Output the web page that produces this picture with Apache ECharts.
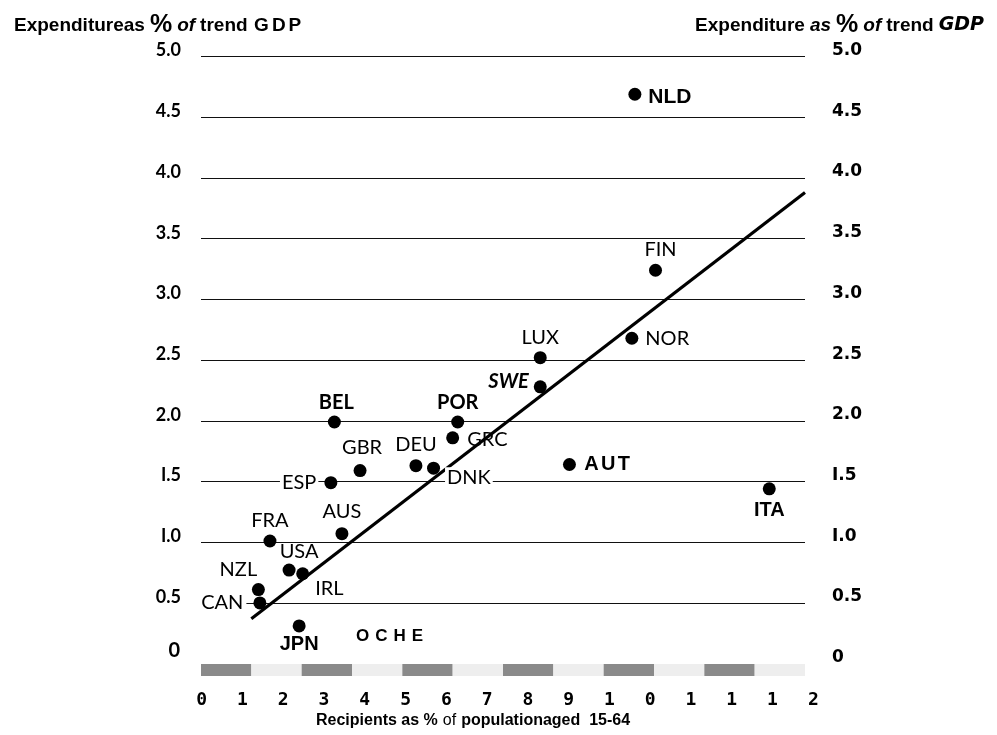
<!DOCTYPE html>
<html>
<head>
<meta charset="utf-8">
<title>Disability benefits: recipients and expenditure</title>
<script src="https://cdn.jsdelivr.net/npm/echarts@6/dist/echarts.min.js"></script>
<style>
  html, body { margin: 0; padding: 0; background: #fff; }
  #chart { width: 997px; height: 735px; }
</style>
</head>
<body>
<div id="chart"></div>
<script>
// Country codes, recipients (% of population aged 15-64) and expenditure (% of trend GDP)
const countries   = ['NLD', 'FIN', 'NOR', 'LUX', 'SWE', 'POR', 'GRC', 'BEL', 'DEU', 'DNK', 'GBR',
                     'ESP', 'AUT', 'ITA', 'AUS', 'FRA', 'USA', 'IRL', 'NZL', 'CAN', 'JPN'];
const recipients  = [8.62, 9.03, 8.56, 6.74, 6.74, 5.10, 5.00, 2.65, 4.27, 4.62, 3.16,
                     2.58, 7.32, 11.29, 2.80, 1.37, 1.75, 2.02, 1.14, 1.17, 1.95];
const expenditure = [4.69, 3.24, 2.68, 2.52, 2.28, 1.99, 1.86, 1.99, 1.63, 1.61, 1.59,
                     1.49, 1.64, 1.44, 1.07, 1.01, 0.77, 0.74, 0.61, 0.50, 0.31];

// Fitted trend line end points
const trendX = [1.0, 12.0];
const trendY = [0.37, 3.88];

// Axis tick labels
const yTickLabels = ['0', '0.5', 'I.0', 'I.5', '2.0', '2.5', '3.0', '3.5', '4.0', '4.5', '5.0'];
const xTickLabels = ['0', '1', '2', '3', '4', '5', '6', '7', '8', '9', '1', '0', '1', '1', '1', '2'];

// Label typography
const plain    = { fontFamily: 'Lato', fontSize: 20, fontWeight: 'normal', color: '#000' };
const gillBold = { fontFamily: 'Lato', fontSize: 20, fontWeight: 'bold', color: '#000' };
const sansBold = { fontFamily: 'Liberation Sans', fontSize: 20, fontWeight: 'bold', color: '#000' };

// Where each country's label sits relative to its dot
const labelPlacement = {
  NLD: Object.assign({ position: 'right', distance: 7, offset: [0, 3] }, sansBold, { fontSize: 21 }),
  FIN: Object.assign({ position: 'top', distance: 4, offset: [5, 0] }, plain),
  NOR: Object.assign({ position: 'right', distance: 7 }, plain),
  LUX: Object.assign({ position: 'top', distance: 4 }, plain),
  SWE: Object.assign({ position: 'left', distance: 5, offset: [0, -5], fontStyle: 'italic' }, gillBold),
  POR: Object.assign({ position: 'top', distance: 3 }, gillBold),
  GRC: Object.assign({ position: 'right', distance: 8, offset: [0, 2] }, plain),
  BEL: Object.assign({ position: 'top', distance: 3, offset: [2, 0] }, gillBold),
  DEU: Object.assign({ position: 'top', distance: 5 }, plain),
  DNK: Object.assign({ position: 'right', distance: 5, offset: [0, 9], backgroundColor: '#fff', padding: [0, 2] }, plain),
  GBR: Object.assign({ position: 'top', distance: 7, offset: [2, 0] }, plain),
  ESP: Object.assign({ position: 'left', distance: 6, backgroundColor: '#fff', padding: [0, 2] }, plain),
  AUT: Object.assign({ position: 'right', distance: 7, formatter: '{s|A}{s|U}{s|T}',
                       rich: { s: Object.assign({ padding: [0, 1.2] }, sansBold) } }, sansBold),
  ITA: Object.assign({ position: 'bottom', distance: 5 }, sansBold),
  AUS: Object.assign({ position: 'top', distance: 6 }, plain),
  FRA: Object.assign({ position: 'top', distance: 4 }, plain),
  USA: Object.assign({ position: 'top', distance: 2, offset: [10, 0] }, plain),
  IRL: Object.assign({ position: 'right', distance: 6, offset: [0, 15] }, plain),
  NZL: Object.assign({ position: 'top', distance: 3, offset: [-20, 0] }, plain),
  CAN: Object.assign({ position: 'left', distance: 7, backgroundColor: '#fff', padding: [0, 3] }, plain),
  JPN: Object.assign({ position: 'bottom', distance: 2 }, sansBold)
};

const points = countries.map((name, i) => ({
  name: name,
  value: [recipients[i], expenditure[i]],
  label: Object.assign({ show: true, formatter: '{b}' }, labelPlacement[name])
}));

const yLabelText = v => yTickLabels[Math.round(v * 2)];

const chart = echarts.init(document.getElementById('chart'), null, { renderer: 'canvas' });

const titleRich = {
  b: { fontFamily: 'Liberation Sans', fontWeight: 'bold', fontSize: 19, color: '#000' },
  p: { fontFamily: 'Liberation Sans', fontWeight: 'bold', fontSize: 25, color: '#000' },
  i: { fontFamily: 'Liberation Sans', fontWeight: 'bold', fontStyle: 'italic', fontSize: 19, color: '#000' },
  g: { fontFamily: 'Liberation Sans', fontWeight: 'bold', fontSize: 19, color: '#000', padding: [0, 1.5] },
  gi: { fontFamily: 'DejaVu Sans', fontWeight: 'bold', fontStyle: 'italic', fontSize: 19, color: '#000' }
};

chart.setOption({
  animation: false,
  backgroundColor: '#fff',
  title: [
    {
      left: 9, top: 8,
      text: '{b|Expenditureas} {p|%} {i|of} {b|trend} {g|G}{g|D}{g|P}',
      textStyle: { rich: titleRich }
    },
    {
      right: 8, top: 8,
      text: '{b|Expenditure} {i|as} {p|%} {i|of} {b|trend} {gi|GDP}',
      textStyle: { rich: titleRich }
    },
    {
      left: 311, top: 707,
      text: '{b|Recipients as %} {n|of} {b|populationaged  15-64}',
      textStyle: {
        rich: {
          b: { fontFamily: 'Liberation Sans', fontWeight: 'bold', fontSize: 16, color: '#000' },
          n: { fontFamily: 'Liberation Sans', fontWeight: 'normal', fontSize: 16, color: '#000' }
        }
      }
    }
  ],
  grid: [
    { left: 201, right: 192, top: 56.6, bottom: 71.4 },   // scatter plot
    { left: 201, right: 192, top: 664, height: 12 },       // shaded scale bar
    { left: 201.7, width: 611.6, top: 688, height: 1 }     // x tick digits
  ],
  xAxis: [
    {
      gridIndex: 0, type: 'value', min: 0, max: 12, interval: 1,
      axisLine: { show: false }, axisTick: { show: false }, axisLabel: { show: false },
      splitLine: { show: false }
    },
    {
      gridIndex: 1, type: 'value', min: 0, max: 12, interval: 1,
      axisLine: { show: false }, axisTick: { show: false }, axisLabel: { show: false },
      splitLine: { show: false },
      splitArea: { show: true, areaStyle: { color: ['#8a8a8a', '#eeeeee'] } }
    },
    {
      gridIndex: 2, type: 'value', min: 0, max: 15, interval: 1,
      axisLine: { show: false }, axisTick: { show: false }, splitLine: { show: false },
      axisLabel: {
        show: true, margin: 2, verticalAlign: 'top',
        fontFamily: 'DejaVu Sans Mono', fontWeight: 'bold', fontSize: 18, color: '#000',
        formatter: v => xTickLabels[Math.round(v)]
      }
    }
  ],
  yAxis: [
    {
      gridIndex: 0, type: 'value', position: 'left', min: 0, max: 5, interval: 0.5,
      axisLine: { show: false }, axisTick: { show: false },
      splitLine: { show: true, showMinLine: false, lineStyle: { color: '#111', width: 1.2 } },
      axisLabel: {
        margin: 20, verticalAlign: 'bottom', lineHeight: 12,
        fontFamily: 'Lato', fontWeight: 'bold', fontSize: 18, color: '#000',
        formatter: v => v === 0 ? '{z|' + yLabelText(v) + '}' : yLabelText(v),
        rich: { z: { fontFamily: 'Lato', fontWeight: 'bold', fontSize: 20, lineHeight: 14, color: '#000', padding: [0, 1, 13, 0] } }
      }
    },
    {
      gridIndex: 0, type: 'value', position: 'right', min: 0, max: 5, interval: 0.5,
      axisLine: { show: false }, axisTick: { show: false }, splitLine: { show: false },
      axisLabel: {
        margin: 27, verticalAlign: 'bottom', lineHeight: 12,
        fontFamily: 'DejaVu Sans', fontWeight: 'bold', fontSize: 17, color: '#000',
        formatter: v => yLabelText(v)
      }
    },
    { gridIndex: 1, type: 'value', show: false, min: 0, max: 1 },
    { gridIndex: 2, type: 'value', show: false, min: 0, max: 1 }
  ],
  graphic: [
    {
      type: 'text', left: 356, top: 628,
      style: {
        text: '{o|O}{o|C}{o|H}{o|E}',
        rich: { o: { fontFamily: 'Liberation Sans', fontWeight: 'bold', fontSize: 17, fill: '#000', padding: [0, 3] } }
      }
    }
  ],
  series: [
    {
      type: 'line', xAxisIndex: 0, yAxisIndex: 0,
      data: trendX.map((x, i) => [x, trendY[i]]),
      showSymbol: false, symbol: 'none',
      lineStyle: { color: '#000', width: 3.2 },
      z: 3
    },
    {
      type: 'scatter', xAxisIndex: 0, yAxisIndex: 0,
      data: points,
      symbol: 'circle', symbolSize: 13,
      itemStyle: { color: '#000', opacity: 1 },
      z: 4
    }
  ]
});
</script>
</body>
</html>
